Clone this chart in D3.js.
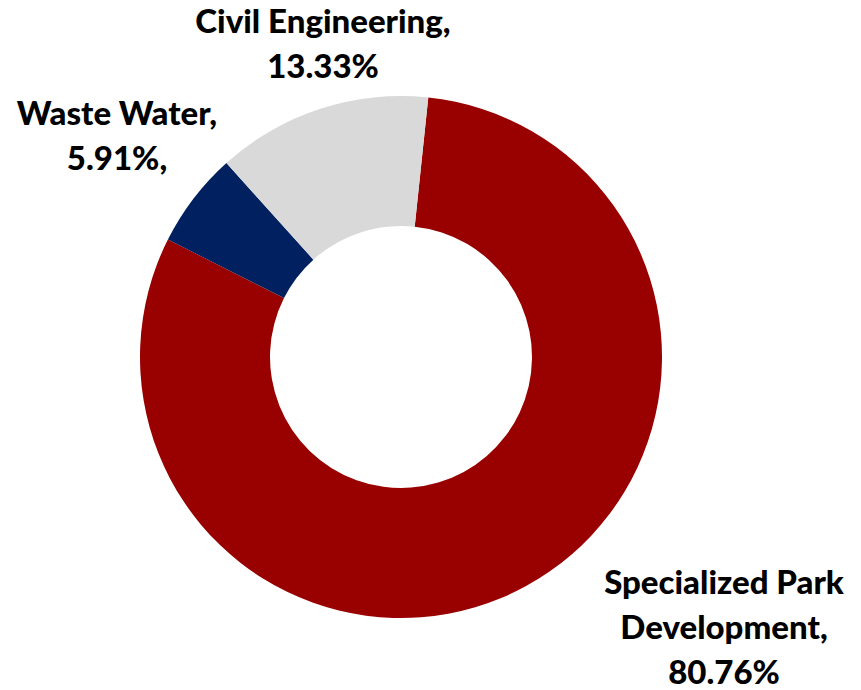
<!DOCTYPE html>
<html>
<head>
<meta charset="utf-8">
<script src="https://cdn.jsdelivr.net/npm/d3@7"></script>
<style>
  html, body { margin: 0; padding: 0; background: #fff; }
  svg { display: block; }
  text { font-family: Lato, "Open Sans", sans-serif; font-weight: 900; fill: #000; }
</style>
</head>
<body>
<svg id="chart" width="861" height="690"></svg>
<script>
// Data (clockwise order)
const categories = ["Specialized Park Development", "Waste Water", "Civil Engineering"];
const values = [80.76, 5.91, 13.33];
const colors = ["#990000", "#002060", "#D9D9D9"];
// label lines as shown in the chart
const labelLines = [
  ["Specialized Park", "Development,", "80.76%"],
  ["Waste Water,", "5.91%,"],
  ["Civil Engineering,", "13.33%"]
];

const W = 861, H = 690;
const cx = 401, cy = 357, outerR = 261, innerR = 131;
const startDeg = 6;

const svg = d3.select("#chart");
const g = svg.append("g").attr("transform", `translate(${cx},${cy})`);

const pie = d3.pie().sort(null).value(d => d)
  .startAngle(startDeg * Math.PI / 180)
  .endAngle(startDeg * Math.PI / 180 + 2 * Math.PI);
const arc = d3.arc().innerRadius(innerR).outerRadius(outerR);

const arcs = pie(values);
g.selectAll("path.slice").data(arcs).enter().append("path")
  .attr("class", "slice")
  .attr("d", arc)
  .attr("fill", (d, i) => colors[i]);

// label positions (absolute, centered) and baseline of first line
const labelPos = [
  { x: 724, y: 594 },
  { x: 117, y: 125 },
  { x: 323, y: 33 }
];
const lineGap = 45;
const fontSize = 33;

labelLines.forEach((lines, i) => {
  const t = svg.append("text")
    .attr("text-anchor", "middle")
    .attr("font-size", fontSize);
  lines.forEach((ln, j) => {
    t.append("tspan")
      .attr("x", labelPos[i].x)
      .attr("y", labelPos[i].y + j * lineGap)
      .text(ln);
  });
});
</script>
</body>
</html>
